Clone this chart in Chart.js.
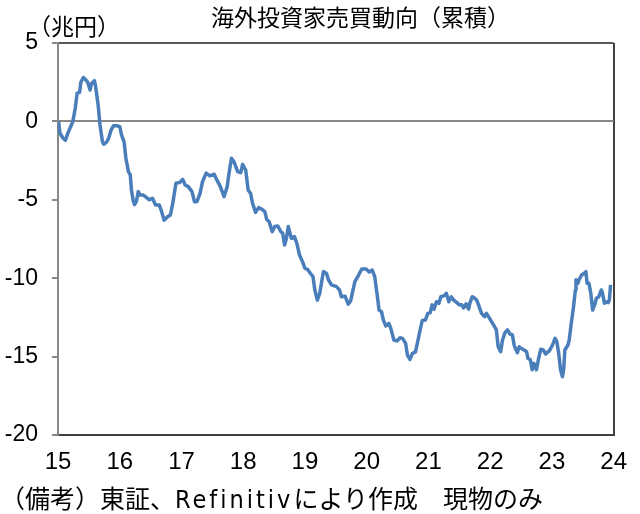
<!DOCTYPE html>
<html lang="ja">
<head>
<meta charset="utf-8">
<script src="https://cdn.jsdelivr.net/npm/chart.js@4/dist/chart.umd.min.js"></script>
<style>
  html, body { margin: 0; padding: 0; background: #fff; }
  #wrap { position: relative; width: 640px; height: 514px; }
  #chart { position: absolute; left: 0; top: 0; }
  .txt {
    position: absolute;
    font-family: "Noto Sans CJK JP", "Noto Sans", sans-serif;
    color: #000;
    white-space: nowrap;
    line-height: 1;
  }
  #title { left: 211px; top: 5px; font-size: 23px; }
  #unit { left: 28px; top: 14px; font-size: 23px; }
  #note { left: 0px; top: 485px; font-size: 25px; }
  #note .lat { font-family: "Liberation Sans Narrow", "DejaVu Sans Condensed", "Liberation Sans", sans-serif; letter-spacing: 3px; }
</style>
</head>
<body>
<div id="wrap">
  <canvas id="chart" width="640" height="514"></canvas>
  <div class="txt" id="title">海外投資家売買動向（累積）</div>
  <div class="txt" id="unit">（兆円）</div>
  <div class="txt" id="note">（備考）東証、<span class="lat">Refinitiv</span>により作成　現物のみ</div>
</div>
<script>
// Cumulative net buying by foreign investors (trillion yen), x = year (15 = 2015)
const years = [
  15.01, 15.03, 15.08, 15.12, 15.16, 15.22, 15.24, 15.28, 15.31, 15.35,
  15.37, 15.41, 15.45, 15.48, 15.52, 15.54, 15.59, 15.61, 15.65, 15.68,
  15.72, 15.74, 15.79, 15.82, 15.86, 15.90, 15.95, 16.00, 16.03, 16.07,
  16.10, 16.14, 16.17, 16.19, 16.22, 16.24, 16.27, 16.30, 16.33, 16.38,
  16.43, 16.48, 16.53, 16.58, 16.64, 16.67, 16.72, 16.77, 16.82, 16.86,
  16.91, 16.97, 17.02, 17.06, 17.11, 17.17, 17.21, 17.25, 17.30, 17.34,
  17.40, 17.46, 17.53, 17.56, 17.63, 17.69, 17.74, 17.77, 17.81, 17.85,
  17.91, 17.96, 17.99, 18.04, 18.08, 18.12, 18.15, 18.20, 18.25, 18.30,
  18.35, 18.38, 18.42, 18.47, 18.51, 18.56, 18.61, 18.64, 18.67, 18.70,
  18.73, 18.78, 18.83, 18.87, 18.91, 18.96, 19.00, 19.04, 19.09, 19.13,
  19.16, 19.20, 19.24, 19.28, 19.30, 19.35, 19.38, 19.43, 19.51, 19.56,
  19.59, 19.65, 19.70, 19.74, 19.77, 19.81, 19.87, 19.92, 19.99, 20.04,
  20.09, 20.13, 20.17, 20.20, 20.24, 20.27, 20.31, 20.36, 20.39, 20.44,
  20.49, 20.54, 20.58, 20.63, 20.66, 20.70, 20.74, 20.79, 20.82, 20.86,
  20.90, 20.95, 20.99, 21.03, 21.06, 21.09, 21.13, 21.17, 21.20, 21.25,
  21.29, 21.33, 21.37, 21.41, 21.46, 21.50, 21.54, 21.57, 21.61, 21.65,
  21.67, 21.71, 21.75, 21.78, 21.82, 21.86, 21.91, 21.94, 21.99, 22.04,
  22.10, 22.13, 22.17, 22.20, 22.24, 22.28, 22.32, 22.36, 22.39, 22.44,
  22.47, 22.50, 22.55, 22.59, 22.61, 22.65, 22.68, 22.71, 22.75, 22.78,
  22.82, 22.86, 22.90, 22.96, 23.01, 23.05, 23.08, 23.11, 23.14, 23.17,
  23.19, 23.21, 23.26, 23.28, 23.31, 23.35, 23.38, 23.39, 23.42, 23.44,
  23.48, 23.52, 23.55, 23.57, 23.60, 23.63, 23.66, 23.70, 23.72, 23.76,
  23.80, 23.82, 23.85, 23.89, 23.91, 23.93, 23.95
];
const values = [
  0.00, -0.74, -1.06, -1.20, -0.75, -0.20, 0.00, 0.85, 1.80, 1.85,
  2.50, 2.80, 2.65, 2.50, 2.00, 2.40, 2.60, 2.20, 1.05, -0.23,
  -1.30, -1.46, -1.30, -1.08, -0.55, -0.27, -0.27, -0.34, -0.87, -1.30,
  -2.35, -3.20, -3.40, -4.37, -5.10, -5.30, -5.10, -4.48, -4.70, -4.70,
  -4.84, -5.00, -4.90, -5.33, -5.33, -5.65, -6.30, -6.10, -5.97, -5.20,
  -3.95, -3.90, -3.70, -4.06, -4.16, -4.48, -5.12, -5.12, -4.60, -3.85,
  -3.30, -3.48, -3.37, -3.63, -4.16, -4.80, -4.16, -3.31, -2.35, -2.57,
  -3.20, -3.27, -2.74, -3.10, -4.37, -4.60, -5.20, -5.80, -5.50, -5.60,
  -5.76, -6.25, -6.40, -7.03, -6.70, -6.67, -7.03, -7.14, -7.88, -7.46,
  -6.70, -7.46, -7.35, -7.80, -8.50, -8.95, -9.37, -9.43, -9.70, -9.90,
  -10.75, -11.40, -10.96, -10.00, -9.58, -9.70, -10.10, -10.43, -10.54, -10.75,
  -11.18, -11.15, -11.65, -11.45, -10.90, -10.20, -9.80, -9.41, -9.41, -9.60,
  -9.48, -9.90, -11.07, -12.03, -12.14, -12.67, -13.05, -12.88, -13.20, -13.94,
  -14.00, -13.80, -13.84, -14.15, -14.90, -15.18, -14.80, -14.70, -14.15, -13.40,
  -12.70, -12.67, -12.24, -12.20, -11.70, -11.97, -11.50, -11.60, -11.18, -11.13,
  -10.96, -11.50, -11.18, -11.40, -11.56, -11.70, -11.70, -11.90, -11.63, -11.97,
  -11.60, -11.18, -11.28, -11.39, -11.80, -12.24, -12.45, -12.24, -12.56, -12.88,
  -13.30, -14.37, -14.69, -13.94, -13.47, -13.30, -13.56, -13.62, -14.30, -14.75,
  -14.37, -14.47, -14.58, -14.69, -15.10, -15.20, -15.84, -15.43, -15.84, -15.20,
  -14.53, -14.58, -14.84, -14.62, -14.26, -13.84, -14.05, -14.80, -15.84, -16.28,
  -15.84, -14.58, -14.26, -13.94, -12.98, -11.82, -10.75, -10.10, -10.33, -10.10,
  -9.80, -9.70, -9.58, -10.33, -10.33, -10.96, -12.03, -11.60, -11.28, -11.18,
  -10.75, -10.96, -11.60, -11.50, -11.56, -11.40, -10.43
];
const xMin = 15, xMax = 24;
const yMin = -20, yMax = 5, yStep = 5;

const tickFamily = '"Liberation Sans", "DejaVu Sans", sans-serif';

const ctx = document.getElementById('chart').getContext('2d');
new Chart(ctx, {
    type: 'line',
    data: {
        datasets: [{
            data: years.map((x, i) => ({ x: x, y: values[i] })),
            borderColor: '#4a7ebb',
            borderWidth: 3.5,
            pointRadius: 0,
            tension: 0,
            borderJoinStyle: 'round',
            fill: false
        }]
    },
    options: {
        responsive: false,
        animation: false,
        layout: { padding: { top: 43, right: 13, left: 0, bottom: 0 } },
        plugins: {
            legend: { display: false },
            tooltip: { enabled: false }
        },
        scales: {
            x: {
                type: 'linear',
                min: xMin,
                max: xMax,
                afterFit: scale => { scale.height = 79; },
                ticks: {
                    stepSize: 1,
                    color: '#000',
                    font: { family: tickFamily, size: 24 },
                    padding: 13,
                    maxRotation: 0
                },
                grid: {
                    drawTicks: false,
                    color: c => c.tick && c.tick.value === xMax ? '#404040' : 'rgba(0,0,0,0)',
                    lineWidth: 2
                },
                border: { color: '#404040', width: 2 }
            },
            y: {
                min: yMin,
                max: yMax,
                afterFit: scale => { scale.width = 58; },
                ticks: {
                    stepSize: yStep,
                    color: '#000',
                    font: { family: tickFamily, size: 23 },
                    padding: 14
                },
                grid: {
                    drawTicks: true,
                    tickLength: 6,
                    tickColor: '#888',
                    color: c => {
                        if (!c.tick) return 'rgba(0,0,0,0)';
                        if (c.tick.value === 0) return '#888';
                        if (c.tick.value === yMax) return '#595959';
                        return 'rgba(0,0,0,0)';
                    },
                    lineWidth: 2
                },
                border: { color: '#888', width: 2 }
            }
        }
    }
});
</script>
</body>
</html>
